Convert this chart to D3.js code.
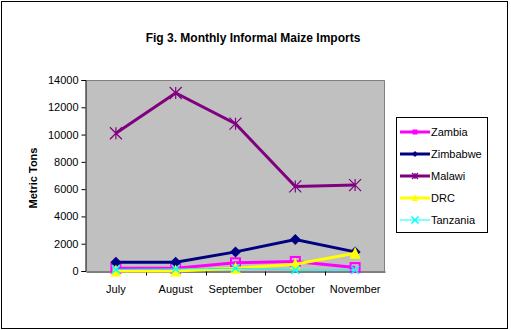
<!DOCTYPE html>
<html>
<head>
<meta charset="utf-8">
<script src="https://cdn.jsdelivr.net/npm/d3@7"></script>
<style>
  html, body { margin: 0; padding: 0; background: #fff; }
  svg { display: block; font-family: Arial, "Liberation Sans", sans-serif; }
</style>
</head>
<body>
<svg id="chart" width="511" height="330"></svg>
<script>
// Monthly informal maize imports (metric tons)
const months = ["July", "August", "September", "October", "November"];
const zambia   = [200, 200, 600, 700, 250];
const zimbabwe = [650, 650, 1400, 2300, 1400];
const malawi   = [10100, 13050, 10800, 6200, 6300];
const drc      = [0, 0, 200, 500, 1300];
const tanzania = [120, 150, 200, 70, 70];
const yTicks   = [0, 2000, 4000, 6000, 8000, 10000, 12000, 14000];

const series = [
  { name: "Zambia",   values: zambia,   color: "#FF00FF", width: 3, marker: "square" },
  { name: "Zimbabwe", values: zimbabwe, color: "#000080", width: 3, marker: "diamond" },
  { name: "Malawi",   values: malawi,   color: "#800080", width: 3, marker: "star" },
  { name: "DRC",      values: drc,      color: "#FFFF00", width: 3, marker: "triangle" },
  { name: "Tanzania", values: tanzania, color: "#00FFFF", width: 1, marker: "cross" }
];

const svg = d3.select("#chart");
const plot = { left: 86, right: 385, top: 80, bottom: 271 };

// Outer frame
svg.append("rect")
  .attr("x", 1.5).attr("y", 1.5).attr("width", 506).attr("height", 327)
  .attr("fill", "#fff").attr("stroke", "#000").attr("stroke-width", 1);

// Title
svg.append("text")
  .attr("x", 253).attr("y", 42)
  .attr("text-anchor", "middle")
  .attr("font-size", 12).attr("font-weight", "bold")
  .text("Fig 3. Monthly Informal Maize Imports");

const x = d3.scaleBand().domain(months).range([plot.left, plot.right]);
const y = d3.scaleLinear().domain([0, 14000]).range([plot.bottom, plot.top]);

// Plot background
svg.append("rect")
  .attr("x", plot.left).attr("y", plot.top)
  .attr("width", plot.right - plot.left).attr("height", plot.bottom - plot.top)
  .attr("fill", "#C0C0C0");
svg.append("path")
  .attr("d", `M${plot.left},${plot.top + 0.5}H${plot.right - 0.5}V${plot.bottom}`)
  .attr("fill", "none").attr("stroke", "#808080").attr("stroke-width", 1);

// Y axis
const yAxis = d3.axisLeft(y).tickValues(yTicks).tickSize(4).tickPadding(3).tickFormat(d3.format("d"));
const gy = svg.append("g").attr("transform", `translate(${plot.left - 0.5},0)`).call(yAxis);
gy.selectAll("text").attr("font-size", 11).attr("fill", "#000").style("font-family", "Arial, 'Liberation Sans', sans-serif");
gy.selectAll("line, path").attr("stroke", "#000");

// X axis: ticks fall between categories
const xAxis = d3.axisBottom(x).tickSize(0).tickPadding(14);
const gx = svg.append("g").attr("transform", `translate(0,${plot.bottom + 0.5})`).call(xAxis);
gx.selectAll("text").attr("font-size", 11).attr("fill", "#000").style("font-family", "Arial, 'Liberation Sans', sans-serif");
gx.select("path").attr("stroke", "#000");
gx.selectAll(".between").data(months.slice(1)).enter().append("line")
  .attr("x1", d => Math.round(x(d)) + 0.5).attr("x2", d => Math.round(x(d)) + 0.5)
  .attr("y1", 0).attr("y2", 4).attr("stroke", "#000");

// Y axis title
svg.append("text")
  .attr("transform", "translate(37,178) rotate(-90)")
  .attr("text-anchor", "middle")
  .attr("font-size", 11).attr("font-weight", "bold")
  .text("Metric Tons");

const cx = d => x(d) + x.bandwidth() / 2;

function drawMarker(g, type, color, size) {
  const s = size;
  if (type === "square") {
    g.append("rect").attr("x", -s / 2).attr("y", -s / 2).attr("width", s).attr("height", s)
      .attr("fill", "none").attr("stroke", color).attr("stroke-width", 2);
  } else if (type === "diamond") {
    g.append("path").attr("d", `M0,${-s / 2}L${s / 2},0L0,${s / 2}L${-s / 2},0Z`).attr("fill", color);
  } else if (type === "triangle") {
    g.append("path").attr("d", `M0,${-s / 2 - 1}L${s / 2},${s / 2}L${-s / 2},${s / 2}Z`).attr("fill", color);
  } else if (type === "star") {
    const h = s / 2;
    g.append("path").attr("d", `M${-h},${-h}L${h},${h}M${-h},${h}L${h},${-h}M0,${-h}V${h}`)
      .attr("stroke", color).attr("stroke-width", 1.2).attr("fill", "none");
  } else if (type === "cross") {
    const h = s / 2;
    g.append("path").attr("d", `M${-h},${-h}L${h},${h}M${-h},${h}L${h},${-h}`)
      .attr("stroke", color).attr("stroke-width", 1.5).attr("fill", "none");
  }
}

const line = d3.line().x(d => cx(d.m)).y(d => y(d.v));
const markerSize = { square: 9, diamond: 11, star: 12, triangle: 11, cross: 8 };

series.forEach(s => {
  const pts = months.map((m, i) => ({ m, v: s.values[i] }));
  const g = svg.append("g");
  g.append("path").datum(pts).attr("d", line)
    .attr("fill", "none").attr("stroke", s.color).attr("stroke-width", s.width);
  pts.forEach(p => {
    const mg = g.append("g").attr("transform", `translate(${cx(p.m)},${y(p.v)})`);
    drawMarker(mg, s.marker, s.color, markerSize[s.marker]);
  });
});

// Legend
const lg = svg.append("g");
lg.append("rect").attr("x", 396.5).attr("y", 117.5).attr("width", 91).attr("height", 115)
  .attr("fill", "#fff").attr("stroke", "#000").attr("stroke-width", 1);
series.forEach((s, i) => {
  const ly = 132 + i * 22;
  lg.append("line").attr("x1", 400).attr("x2", 430).attr("y1", ly).attr("y2", ly)
    .attr("stroke", s.color).attr("stroke-width", s.width);
  const mg = lg.append("g").attr("transform", `translate(415,${ly})`);
  const legendSize = { square: 5, diamond: 6, star: 6, triangle: 6, cross: 7 };
  if (s.marker === "square") {
    mg.append("rect").attr("x", -2.5).attr("y", -2.5).attr("width", 5).attr("height", 5).attr("fill", s.color);
  } else {
    drawMarker(mg, s.marker, s.color, legendSize[s.marker]);
  }
  lg.append("text").attr("x", 431).attr("y", ly + 4)
    .attr("font-size", 11).text(s.name);
});
</script>
</body>
</html>
